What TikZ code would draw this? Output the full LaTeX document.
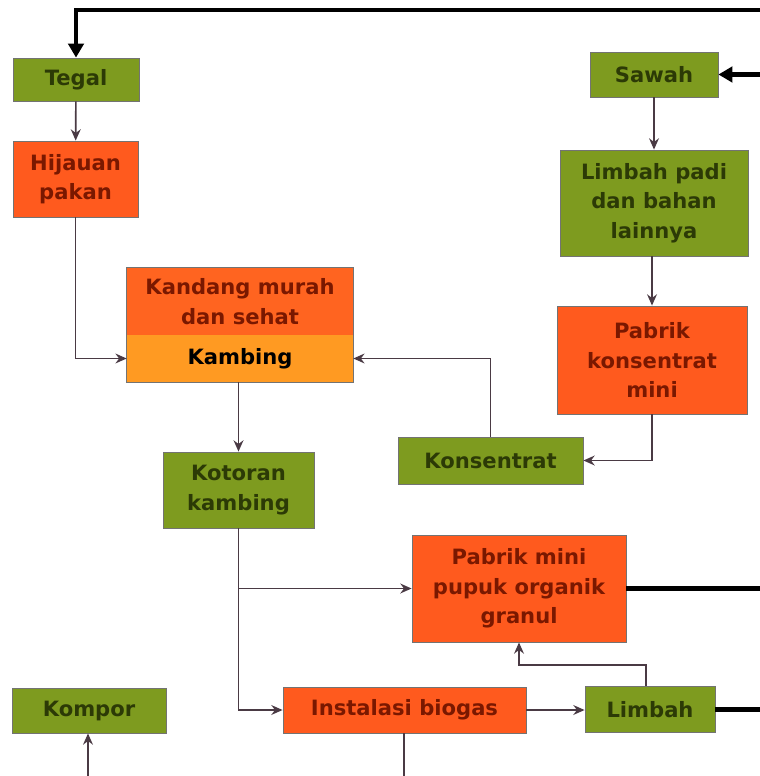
\documentclass[tikz,border=0pt]{standalone}
\usepackage{fontspec}
\setmainfont{DejaVu Sans}
\usetikzlibrary{arrows.meta}
\definecolor{leafgreen}{HTML}{7E9B1F}
\definecolor{leafdark}{HTML}{2C3A06}
\definecolor{brick}{HTML}{FF5A1E}
\definecolor{brickdark}{HTML}{7A1800}
\definecolor{kandangtop}{HTML}{FF6420}
\definecolor{kambingcol}{HTML}{FF9A22}
\definecolor{linkcol}{HTML}{4A3A44}

\begin{document}
\begin{tikzpicture}[x=0.025cm,y=-0.025cm,>=Stealth,
  box/.style 2 args={minimum width={#1*0.025cm},minimum height={#2*0.025cm},
    inner sep=1pt,align=center,font=\bfseries\fontsize{15}{21}\selectfont},
  grnbox/.style={draw=black!55,line width=0.6pt,fill=leafgreen,text=leafdark},
  hotbox/.style={draw=black!55,line width=0.6pt,fill=brick,text=brickdark},
  link/.style={draw=linkcol,line width=1.2pt,-{Stealth[length=8pt,width=7pt]}},
  mainline/.style={draw=black,line width=3.2pt},
  mainarrow/.style={mainline,-{Triangle[length=10pt,width=11pt]}}]
\useasboundingbox (0,0) rectangle (760,776);
% left column
\node[grnbox,box={126}{43}] (tegal) at (76,79.5) {Tegal};
\node[hotbox,box={125}{76}] (hijauan) at (75.5,179) {Hijauan\\pakan};
\node[box={226}{67},fill=kandangtop,text=brickdark] (kandang) at (240,301.5) {Kandang murah\\dan sehat};
\node[box={226}{47},fill=kambingcol,text=black] (kambing) at (240,358.5) {Kambing};
\draw[black!55,line width=0.6pt] (kandang.north west) rectangle (kambing.south east);
\node[grnbox,box={151}{76}] (kotoran) at (238.5,490) {Kotoran\\kambing};
\node[grnbox,box={154}{45}] (kompor) at (89,710.5) {Kompor};
% right column
\node[grnbox,box={128}{45}] (sawah) at (654,74.5) {Sawah};
\node[grnbox,box={188}{106}] (limbahpadi) at (654,203) {Limbah padi\\dan bahan\\lainnya};
\node[hotbox,box={190}{108}] (konspabrik) at (652,360) {Pabrik\\konsentrat\\mini};
\node[grnbox,box={185}{47}] (konsentrat) at (490.5,460.5) {Konsentrat};
\node[hotbox,box={214}{107}] (pupuk) at (519,588.5) {Pabrik mini\\pupuk organik\\granul};
\node[hotbox,box={243}{46}] (biogas) at (404.5,710) {Instalasi biogas};
\node[grnbox,box={130}{46}] (limbah) at (650,709.5) {Limbah};
% free ends at the border
\coordinate (loopin) at (760,10);
\coordinate (sawahin) at (760,74.5);
\coordinate (pupukout) at (760,588.5);
\coordinate (limbahout) at (760,709.5);
\coordinate (biogasout) at (404,776);
\coordinate (komporin) at (88,776);
% thick return lines
\draw[mainarrow] (loopin) -| (tegal.north);
\draw[mainarrow] (sawahin) -- (sawah.east);
\draw[mainline] (pupuk.east) -- (pupukout);
\draw[mainline] (limbah.east) -- (limbahout);
% thin links
\draw[link] (tegal) -- (hijauan);
\draw[link] (hijauan.south) |- (kambing.west);
\draw[link] (sawah) -- (limbahpadi);
\draw[link] (konspabrik.north |- limbahpadi.south) -- (konspabrik.north);
\draw[link] (konspabrik.south) |- (konsentrat.east);
\draw[link] (konsentrat.north) |- (kambing.east);
\draw[link] (kotoran.north |- kambing.south) -- (kotoran.north);
\draw[link] (kotoran.south) |- (biogas.west);
\draw[link] (kotoran.south |- pupuk.west) -- (pupuk.west);
\draw[link] (biogas.east) -- (biogas.east -| limbah.west);
\draw[link] ([xshift=-4*0.025cm]limbah.north) -- ++(0,-21) -| (pupuk.south);
\draw[linkcol,line width=1.2pt] (biogas.south -| biogasout) -- (biogasout);
\draw[link] (komporin) -- (kompor.south -| komporin);
\end{tikzpicture}
\end{document}
